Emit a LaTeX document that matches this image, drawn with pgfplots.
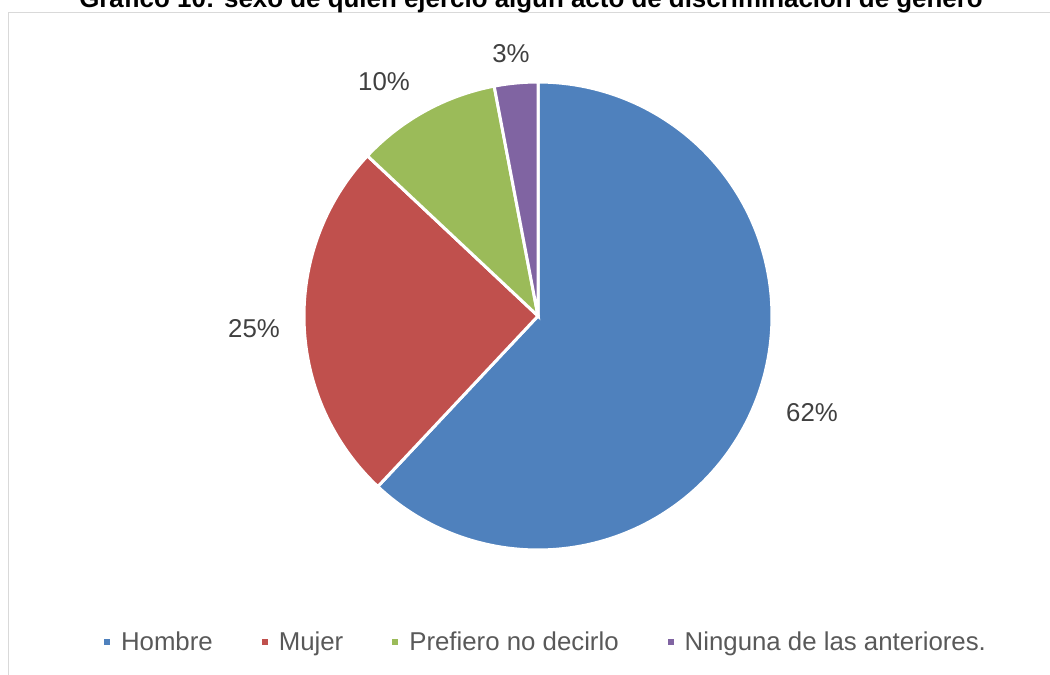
\documentclass[border=0pt]{standalone}
\usepackage{pgfplots}
\pgfplotsset{compat=1.18}
\usepackage{fontspec}
\setmainfont{Liberation Sans}
\definecolor{cHombre}{HTML}{4F81BD}
\definecolor{cMujer}{HTML}{C0504D}
\definecolor{cPref}{HTML}{9BBB59}
\definecolor{cNing}{HTML}{8064A2}
\definecolor{labtxt}{HTML}{404040}
\definecolor{legtxt}{HTML}{595959}
\definecolor{frame}{HTML}{D9D9D9}
% data (percent)
\def\vA{62}\def\vB{25}\def\vC{10}\def\vD{3}
\pgfmathsetmacro\aA{90}
\pgfmathsetmacro\aB{90-3.6*\vA}
\pgfmathsetmacro\aC{\aB-3.6*\vB}
\pgfmathsetmacro\aD{\aC-3.6*\vC}
\pgfmathsetmacro\aE{\aD-3.6*\vD}
\def\cx{538}\def\cy{359}\def\R{234}
\begin{document}
\begin{tikzpicture}
\useasboundingbox (0,0) rectangle (1050bp,675bp);
\draw[frame, line width=1.5bp] (8.5bp,-2bp) -- (8.5bp,662.5bp) -- (1052bp,662.5bp);
\node[anchor=base, font=\fontsize{26}{30}\selectfont\bfseries, text=black, inner sep=0pt] at (531bp,667bp)
  {Gráfico 10: sexo de quién ejerció algún acto de discriminación de género};
\begin{axis}[
  at={(0,0)}, anchor=south west,
  x=1bp, y=1bp, xmin=0, xmax=1050, ymin=0, ymax=675,
  hide axis, clip=false,
  legend columns=4,
  legend image code/.code={\fill (0bp,4bp) rectangle (9bp,13bp);},
  legend style={draw=none, fill=none, inner sep=0pt,
    at={(543.5/1050,33/675)}, anchor=center,
    font=\fontsize{25.9}{30}\selectfont, text=legtxt,
    nodes={inner sep=0pt, anchor=base west},
    /tikz/every odd column/.append style={column sep=8bp},
    /tikz/every even column/.append style={column sep=46bp}},
]
\addplot[fill=cHombre, draw=white, line width=3bp, domain=\aA:\aB, samples=150]
  ({\cx+\R*cos(x)},{\cy+\R*sin(x)}) -- (\cx,\cy) -- cycle;
\addlegendentry{Hombre}
\addplot[fill=cMujer, draw=white, line width=3bp, domain=\aB:\aC, samples=80]
  ({\cx+\R*cos(x)},{\cy+\R*sin(x)}) -- (\cx,\cy) -- cycle;
\addlegendentry{Mujer}
\addplot[fill=cPref, draw=white, line width=3bp, domain=\aC:\aD, samples=40]
  ({\cx+\R*cos(x)},{\cy+\R*sin(x)}) -- (\cx,\cy) -- cycle;
\addlegendentry{Prefiero no decirlo}
\addplot[fill=cNing, draw=white, line width=3bp, domain=\aD:\aE, samples=15]
  ({\cx+\R*cos(x)},{\cy+\R*sin(x)}) -- (\cx,\cy) -- cycle;
\addlegendentry{Ninguna de las anteriores.}
\node[text=labtxt, font=\fontsize{25.9}{30}\selectfont, inner sep=0pt] at (812,262) {62\%};
\node[text=labtxt, font=\fontsize{25.9}{30}\selectfont, inner sep=0pt] at (254,346) {25\%};
\node[text=labtxt, font=\fontsize{25.9}{30}\selectfont, inner sep=0pt] at (384,593) {10\%};
\node[text=labtxt, font=\fontsize{25.9}{30}\selectfont, inner sep=0pt] at (511,621) {3\%};
\end{axis}
\end{tikzpicture}
\end{document}
